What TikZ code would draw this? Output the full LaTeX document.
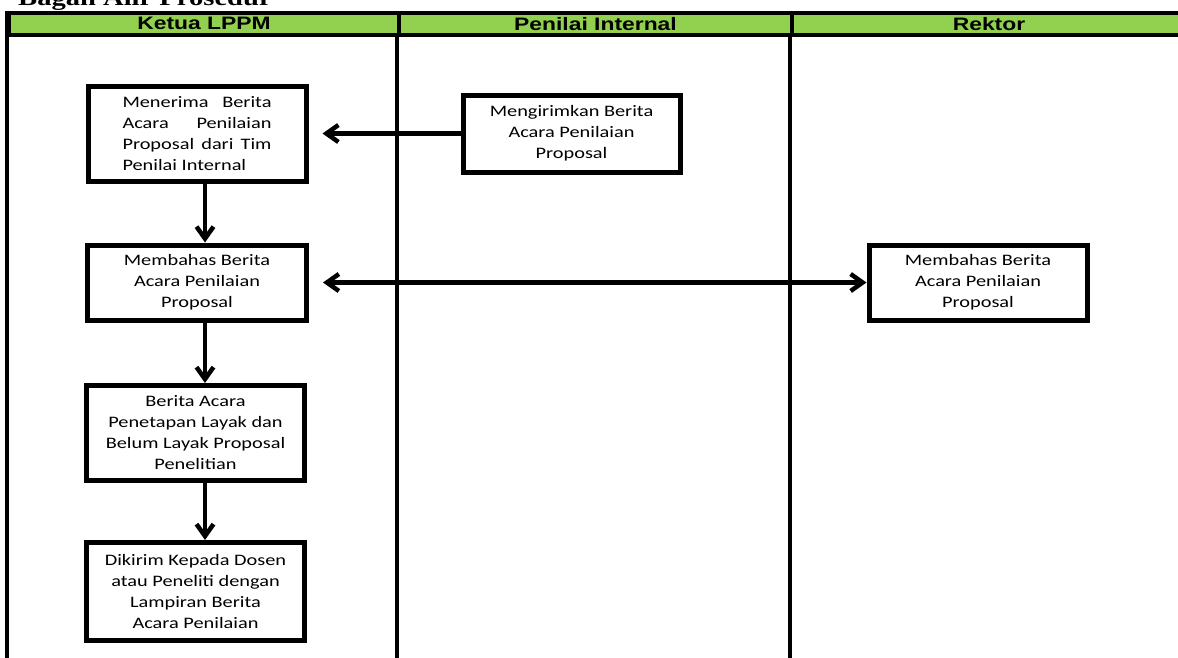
\documentclass[tikz,border=0pt]{standalone}
\usepackage{fontspec}
\usetikzlibrary{arrows.meta}
\newfontfamily\boxfont[FakeStretch=1.27]{Carlito}
\newfontfamily\headfont[FakeStretch=1.27]{Liberation Sans}
\newfontfamily\titlefont[FakeStretch=1.27]{Liberation Serif}
\definecolor{lanegreen}{HTML}{92D050}
\begin{document}
\begin{tikzpicture}[x=1pt,y=-1pt,
  box/.style={draw, line width=5pt, fill=white, align=center, inner sep=0pt,
    font=\boxfont\fontsize{16}{21}\selectfont},
  head/.style={draw, line width=4pt, fill=lanegreen, inner sep=0pt,
    minimum height=22.5pt, font=\headfont\bfseries\fontsize{18}{20}\selectfont},
  lane/.style={line width=4.5pt},
  arr/.style={line width=4.5pt, -{Straight Barb[length=12pt,width=17pt]}},
  biarr/.style={line width=4.5pt, {Straight Barb[length=12pt,width=17pt]}-{Straight Barb[length=12pt,width=17pt]}},
]
\useasboundingbox (0,0) rectangle (1178,657);

% title (cut off at the top)
\node[font=\titlefont\bfseries\fontsize{22.5}{24}\selectfont, anchor=base west, inner sep=0pt]
  (title) at (18,5) {Bagan Alir Prosedur};

% lanes
\coordinate (bot) at (0,680);
\node[head, minimum width=390pt] (h1) at (204,23.75) {Ketua LPPM};
\node[head, minimum width=393pt] (h2) at (595.5,23.75) {Penilai Internal};
\node[head, minimum width=394pt] (h3) at (989,23.75) {Rektor};
\draw[lane] (h1.north west) -- (h1.north west |- bot);
\draw[lane] (h2.north west) -- (h2.north west |- bot);
\draw[lane] (h3.north west) -- (h3.north west |- bot);
\draw[lane] (h3.north east) -- (h3.north east |- bot);
\node[head, minimum width=390pt] at (204,23.75) {Ketua LPPM};
\node[head, minimum width=393pt] at (595.5,23.75) {Penilai Internal};
\node[head, minimum width=394pt] at (989,23.75) {Rektor};

% boxes
\node[box, minimum width=218pt, minimum height=95pt] (b1) at (197,134)
  {\makebox[149pt][s]{Menerima Berita}\\
   \makebox[149pt][s]{Acara Penilaian}\\
   \makebox[149pt][s]{Proposal dari Tim}\\
   \makebox[149pt][l]{Penilai Internal}};
\node[box, minimum width=217pt, minimum height=77pt] (b2) at (571.5,133.5)
  {Mengirimkan Berita\\Acara Penilaian\\Proposal};
\node[box, minimum width=219pt, minimum height=75pt] (b3) at (197,282.5)
  {Membahas Berita\\Acara Penilaian\\Proposal};
\node[box, minimum width=218pt, minimum height=75pt] (b4) at (978,282.5)
  {Membahas Berita\\Acara Penilaian\\Proposal};
\node[box, minimum width=218pt, minimum height=95pt] (b5) at (195.5,433)
  {Berita Acara\\Penetapan Layak dan\\Belum Layak Proposal\\Penelitian};
\node[box, minimum width=218pt, minimum height=98pt] (b6) at (195.5,591.5)
  {Dikirim Kepada Dosen\\atau Peneliti dengan\\Lampiran Berita\\Acara Penilaian};

% connectors
\coordinate (ax) at (205,0);
\draw[arr] (b1.south -| ax) -- (b3.north -| ax);
\draw[arr] (b3.south -| ax) -- (b5.north -| ax);
\draw[arr] (b5.south -| ax) -- (b6.north -| ax);
\draw[arr, shorten >=14pt] (b2.west) -- (b1.east |- b2.west);
\draw[biarr, shorten <=14pt] (b3.east) -- (b4.west);
\end{tikzpicture}
\end{document}
